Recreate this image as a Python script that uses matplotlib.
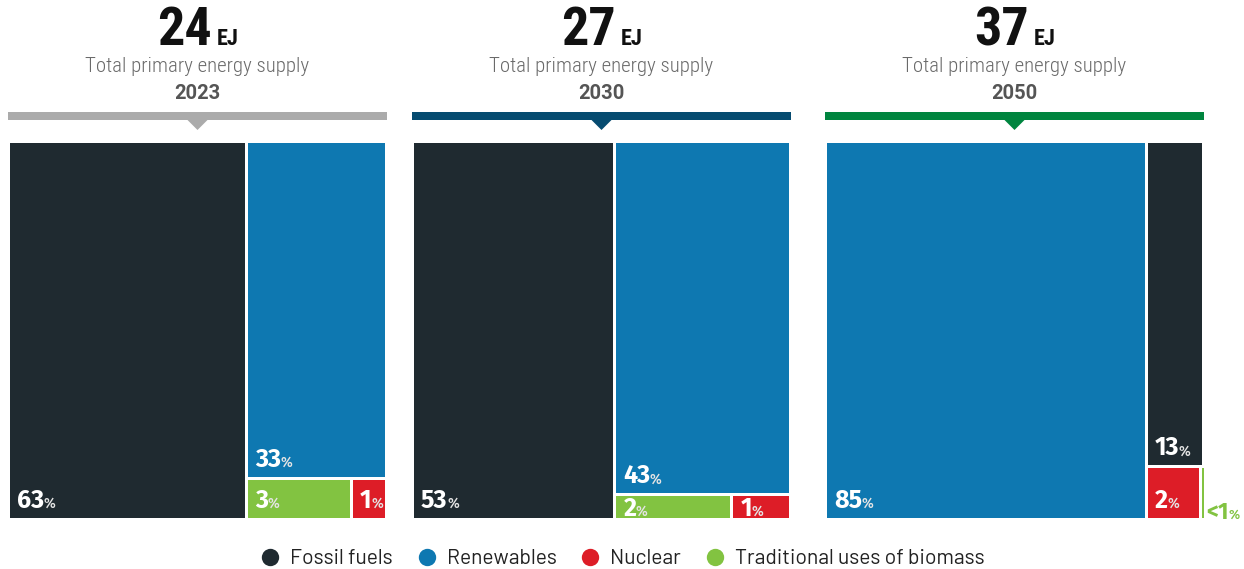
import matplotlib
matplotlib.use("Agg")
import matplotlib.pyplot as plt
from matplotlib.patches import Rectangle, Polygon
from matplotlib.lines import Line2D
from matplotlib.transforms import offset_copy

# ---- data ----
years = ["2023", "2030", "2050"]
total_ej = [24, 27, 37]
categories = ["Fossil fuels", "Renewables", "Nuclear", "Traditional uses of biomass"]
fossil = [63, 53, 13]
renewables = [33, 43, 85]
nuclear = [1, 1, 2]
biomass = [3, 2, 0.1]          # 2050 value is "<1"

colors = {
    "Fossil fuels": "#1f2a30",
    "Renewables": "#0e78b1",
    "Nuclear": "#dd1d27",
    "Traditional uses of biomass": "#82c341",
}
header_colors = ["#ababab", "#064b70", "#00853f"]

W, H = 1244, 569
DPI = 100
fig = plt.figure(figsize=(W / DPI, H / DPI), dpi=DPI)

GAP = 3.0                      # white gap between tiles, px
panel_left = [10, 414, 827]    # visible left edge of each treemap, px
TOP, SIDE = 143, 375           # visible top edge and size of each treemap, px
scale = (SIDE + GAP) / 100.0   # px per data unit

NUM_FONT = ["Fira Sans", "DejaVu Sans"]
COND_FONT = ["Roboto Condensed", "Fira Sans Condensed", "DejaVu Sans"]
LEGEND_FONT = ["Barlow", "Roboto", "DejaVu Sans"]


def py(ypx):
    """figure pixel row (top-down) -> panel data y"""
    return 100 + ((TOP - GAP / 2) - ypx) / scale


def treemap(vals):
    """largest tile on the left; 2nd on top of the right column;
    the rest share the bottom row of the right column"""
    order = sorted(range(len(vals)), key=lambda i: -vals[i])
    a, b, c, d = order
    tot = sum(vals)
    xa = vals[a] / tot * 100
    rest = vals[b] + vals[c] + vals[d]
    hb = vals[b] / rest * 100
    yb = 100 - hb
    wc = vals[c] / (vals[c] + vals[d]) * (100 - xa)
    return {
        a: (0, 0, xa, 100),
        b: (xa, yb, 100 - xa, hb),
        c: (xa, 0, wc, yb),
        d: (xa + wc, 0, 100 - xa - wc, yb),
    }


renderer = fig.canvas.get_renderer()


def value_label(ax, x, y, big, small, color, big_size, small_size, dx, dy, small_color):
    t1 = ax.text(x, y, big, ha="left", va="baseline", color=color,
                 fontsize=big_size, fontweight="bold", family=NUM_FONT,
                 transform=offset_copy(ax.transData, fig=fig, x=dx, y=dy, units="dots"))
    w1 = t1.get_window_extent(renderer).width
    ax.text(x, y, small, ha="left", va="baseline", color=small_color,
            fontsize=small_size, fontweight="medium", family=NUM_FONT,
            transform=offset_copy(ax.transData, fig=fig, x=dx + w1 - 0.5, y=dy,
                                  units="dots"))


for p, year in enumerate(years):
    L = panel_left[p]
    ax = fig.add_axes([(L - GAP / 2) / W, (H - (TOP + SIDE) - GAP / 2) / H,
                       (SIDE + GAP) / W, (SIDE + GAP) / H])
    ax.set_xlim(0, 100)
    ax.set_ylim(0, 100)
    ax.axis("off")

    vals = [fossil[p], renewables[p], nuclear[p], biomass[p]]
    rects = treemap(vals)
    gx = GAP / scale
    for i, (x0, y0, w, h) in rects.items():
        vw = max(w - gx, 2 / scale)
        vh = max(h - gx, 2 / scale)
        ax.add_patch(Rectangle((x0 + gx / 2, y0 + gx / 2), vw, vh,
                               facecolor=colors[categories[i]], edgecolor="none",
                               clip_on=False))
        v = vals[i]
        if v >= 1:
            h_px = vh * scale
            dy = min(10.0, max(2.0, (h_px - 18) / 2))
            value_label(ax, x0, y0, f"{v:g}", "%", "white", 18, 10,
                        dx=GAP / 2 + 7, dy=GAP / 2 + dy, small_color="#e4e4e4")
        else:
            value_label(ax, x0 + w, y0, "<1", "%", colors[categories[i]], 16.5, 9.5,
                        dx=3, dy=GAP / 2 - 1, small_color=colors[categories[i]])

    # header band with pointer
    hc = header_colors[p]
    ax.add_patch(Rectangle((-0.5 / scale, py(120)), (SIDE + 4) / scale,
                           py(112) - py(120),
                           facecolor=hc, edgecolor="none", clip_on=False))
    hw = 10.5 / scale
    ax.add_patch(Polygon([(50 - hw, py(119.5)), (50 + hw, py(119.5)), (50, py(130))],
                         closed=True, facecolor=hc, edgecolor="none", clip_on=False))

    # titles
    ax.text(50, py(99), year, ha="center", va="baseline", fontsize=14.5,
            fontweight="bold", color="#555555", family=["Roboto", "DejaVu Sans"])
    ax.text(50, py(72), "Total primary energy supply", ha="center", va="baseline",
            fontsize=15, fontweight="light", color="#6a6a6a", family=COND_FONT)

    t_num = ax.text(50, py(45), f"{total_ej[p]}", ha="left", va="baseline",
                    fontsize=39, fontweight="bold", color="#111111", family=COND_FONT)
    t_unit = ax.text(50, py(45), "EJ", ha="left", va="baseline",
                     fontsize=16, fontweight="bold", color="#111111", family=COND_FONT)
    w_num = t_num.get_window_extent(renderer).width
    w_unit = t_unit.get_window_extent(renderer).width
    sep = 5
    start = -(w_num + sep + w_unit) / 2
    t_num.set_transform(offset_copy(ax.transData, fig=fig, x=start, y=0, units="dots"))
    t_unit.set_transform(offset_copy(ax.transData, fig=fig, x=start + w_num + sep, y=0,
                                     units="dots"))

handles = [Line2D([], [], linestyle="none", marker="o", markersize=12.5,
                  markerfacecolor=colors[c], markeredgecolor="none") for c in categories]
fig.legend(handles, categories, loc="center", bbox_to_anchor=(0.5, 1 - 559 / H),
           ncol=4, frameon=False, handlelength=1.0, handletextpad=0.45,
           columnspacing=1.1, prop={"family": LEGEND_FONT, "size": 15.2},
           labelcolor="#222222")

fig.savefig("out.png", dpi=DPI)
